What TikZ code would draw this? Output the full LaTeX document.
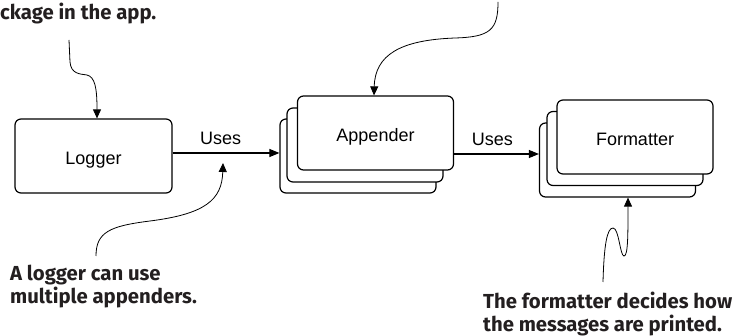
\documentclass[tikz,border=0pt]{standalone}
\usepackage{fontspec}
\setmainfont{Liberation Sans}
\newfontfamily\notefont{Fira Sans}
\usetikzlibrary{arrows.meta}
\definecolor{ink}{RGB}{35,31,32}
\begin{document}
\begin{tikzpicture}[x=1pt,y=-1pt,
  box/.style={draw, line width=1.2pt, rounded corners=6pt, minimum width=156pt, minimum height=74pt, inner sep=0pt, fill=white, text height=17pt, text depth=0pt, font=\fontsize{18}{20}\selectfont},
  link/.style={line width=1.1pt, -{Triangle[length=10pt,width=8pt]}},
  callout/.style={line width=0.8pt, -{Triangle[length=9pt,width=8pt]}},
  note/.style={font=\notefont\bfseries\fontsize{20.3}{23}\selectfont, text=ink, inner sep=0pt, align=left},
  uses/.style={font=\fontsize{18}{20}\selectfont, inner sep=0pt}]
\useasboundingbox (0,0) rectangle (735,336);

% Logger
\node[box, minimum width=157pt] (logger) at (93.5,156) {Logger};

% Appender stack
\node[box] (aback) at (358,156) {};
\node[box] (amid) at (365,145) {};
\node[box] (afront) at (375.5,133) {Appender};

% Formatter stack
\node[box] (fback) at (617.5,160) {};
\node[box] (fmid) at (625,148.5) {};
\node[box] (ffront) at (635,137) {Formatter};

% Uses arrows
\draw[link] ([yshift=3pt]logger.east) -- ([yshift=3pt]aback.west) node[uses, pos=0.45, above=8pt] (uses1) {Uses};
\draw[link] (afront.east |- 0,154) -- (fback.west |- 0,154) node[uses, pos=0.45, above=8pt] (uses2) {Uses};

% Notes
\node[note, anchor=base west] (topnote) at (0,20) {ckage in the app.};
\node[note, anchor=north west] (lnote) at (10,265) {A logger can use\\multiple appenders.};
\node[note, anchor=north west] (rnote) at (483,292) {The formatter decides how\\the messages are printed.};

% Callout curves
\coordinate (c1) at (69,40);
\coordinate (c2) at (498,2);
\coordinate (c3) at (96,256);
\coordinate (c4) at (603,282);
\coordinate (u1tip) at (223,163);

\draw[callout] (c1) -- (70,62) .. controls (71,74) and (80,74) .. (87,75) .. controls (95,77) and (97,88) .. ([xshift=3.5pt]logger.north);
\draw[callout] (c2) .. controls (498,30) and (490,37) .. (455,38) .. controls (400,40) and (375,55) .. ([xshift=-1.5pt]afront.north);
\draw[callout] (c3) .. controls (96,232) and (110,226) .. (150,221) .. controls (205,214) and (222,200) .. (u1tip);
\draw[callout] (c4) .. controls (604,245) and (607,228) .. (613,228) .. controls (619,228) and (620,256) .. (624,256) .. controls (628,256) and (628,235) .. ([xshift=10.5pt]fback.south);
\end{tikzpicture}
\end{document}
